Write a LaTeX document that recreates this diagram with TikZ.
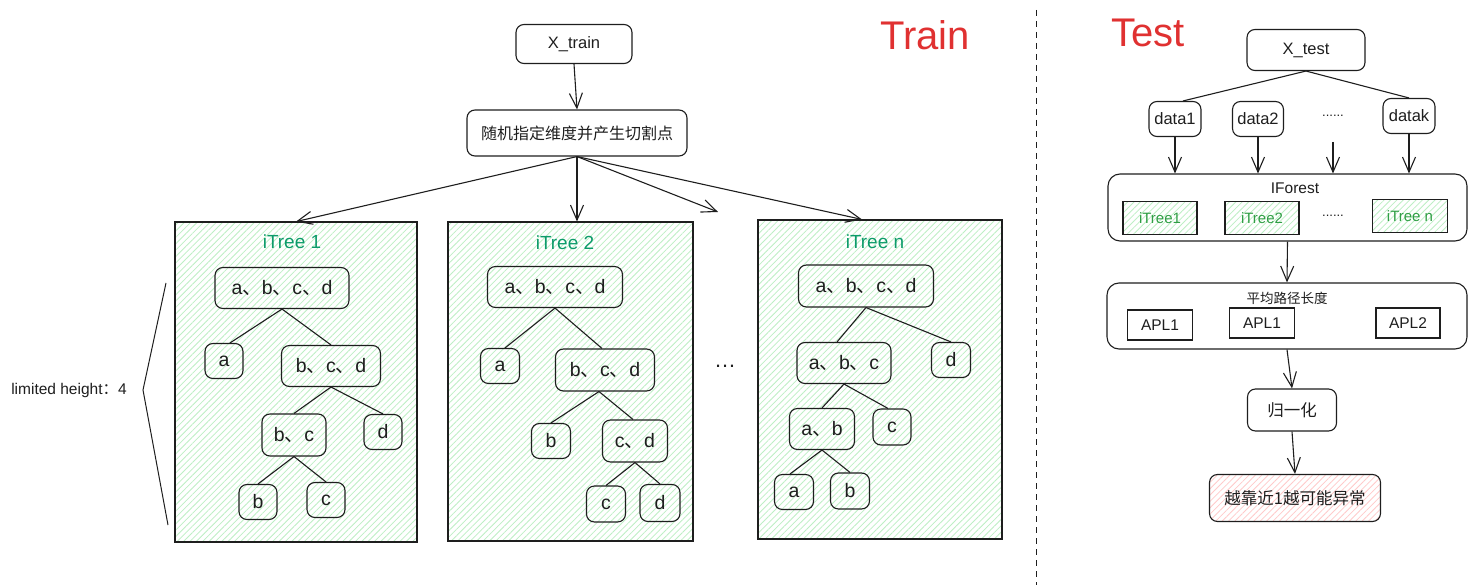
\documentclass[tikz,border=0pt]{standalone}
\usepackage{fontspec}
\setmainfont{Liberation Sans}
\newfontfamily\cjk{Noto Sans CJK SC}
\usetikzlibrary{arrows.meta,calc,patterns.meta}
\definecolor{ink}{HTML}{1E1E1E}
\definecolor{hatchg}{HTML}{BDEFC4}
\definecolor{hatchp}{HTML}{FFCACA}
\definecolor{labg}{HTML}{0C9B6A}
\definecolor{txtg}{HTML}{2F9E44}
\definecolor{redt}{HTML}{E03131}
\newcommand{\dn}{{\cjk 、}}
\newcommand{\fsz}[1]{\fontsize{#1}{#1}\selectfont}
\begin{document}
\begin{tikzpicture}[x=1pt,y=-1pt,
  every node/.style={text=ink, inner sep=0pt},
  rbox/.style={draw=ink, line width=1.1pt, rounded corners=8pt, align=center, font=\fsz{19.5}},
  wbox/.style={rbox, fill=white, font=\fsz{16.5}},
  leaf/.style={rbox, minimum width=39pt, minimum height=35pt},
  greenhatch/.style={preaction={fill=white}, pattern={Lines[angle=45,distance=4.5pt,line width=0.8pt]}, pattern color=hatchg},
  tbox/.style={draw=ink, line width=1.1pt, greenhatch},
  tlab/.style={text=labg, font=\fsz{19}},
  sbox/.style={draw=ink, line width=1.1pt, greenhatch, text=txtg, font=\fsz{15}, minimum width=74pt, minimum height=33pt},
  abox/.style={draw=ink, line width=1.1pt, fill=white, font=\fsz{15.5}, minimum width=65pt, minimum height=30pt},
  big/.style={draw=ink, line width=1.1pt, rounded corners=12pt, fill=white},
  edge/.style={draw=ink, line width=1.1pt},
  arr/.style={draw=ink, line width=1.1pt, -{Straight Barb[length=15pt,width=13pt,line width=1.1pt]}},
  title/.style={text=redt, font=\fsz{40}}
]
\useasboundingbox (0,0) rectangle (1476,585);

% ---------- Train ----------
\node[title] (train) at (925,35) {Train};
\node[wbox, minimum width=116pt, minimum height=39pt] (xtrain) at (574,44) {X\_train};
\node[wbox, minimum width=220pt, minimum height=46pt, font=\cjk\fsz{16}] (split) at (577,133) {随机指定维度并产生切割点};
\draw[arr] (xtrain.south) -- (split.north);

% tree boxes
\node[tbox, minimum width=242pt, minimum height=320pt] (t1) at (296,382) {};
\node[tbox, minimum width=245pt, minimum height=319pt] (t2) at (570.5,381.5) {};
\node[tbox, minimum width=244pt, minimum height=319pt] (tn) at (880,379.5) {};
\node[tlab] (t1l) at (292,242) {iTree 1};
\node[tlab] (t2l) at (565,243) {iTree 2};
\node[tlab] (tnl) at (875,242) {iTree n};

\coordinate (fr) at (718,212);
\coordinate (tnin) at ([xshift=-18pt]tn.north);
\draw[arr] (split.south) -- (t1.north);
\draw[arr] (split.south) -- (split.south |- t2.north);
\draw[arr] (split.south) -- (fr);
\draw[arr] (split.south) -- (tnin);

% tree 1
\node[rbox, minimum width=134pt, minimum height=41pt] (r1) at (282,288) {a\dn b\dn c\dn d};
\node[leaf, minimum width=38pt] (a1) at (224,361) {a};
\node[rbox, minimum width=99pt, minimum height=41pt] (bcd1) at (331,366) {b\dn c\dn d};
\node[rbox, minimum width=64pt, minimum height=42pt] (bc1) at (294,435) {b\dn c};
\node[leaf, minimum width=38pt] (d1) at (383,432) {d};
\node[leaf, minimum width=38pt] (b1) at (258,502) {b};
\node[leaf, minimum width=38pt] (c1) at (326,500) {c};
\draw[edge] (r1.south) -- ([xshift=6pt]a1.north);
\draw[edge] (r1.south) -- (bcd1.north);
\draw[edge] (bcd1.south) -- (bc1.north);
\draw[edge] (bcd1.south) -- (d1.north);
\draw[edge] (bc1.south) -- (b1.north);
\draw[edge] (bc1.south) -- (c1.north);

% tree 2
\node[rbox, minimum width=135pt, minimum height=41pt] (r2) at (555,287) {a\dn b\dn c\dn d};
\node[leaf] (a2) at (500,366) {a};
\node[rbox, minimum width=99pt, minimum height=42pt] (bcd2) at (605,370) {b\dn c\dn d};
\node[leaf] (b2) at (551,441) {b};
\node[rbox, minimum width=65pt, minimum height=42pt] (cd2) at (635,441) {c\dn d};
\node[leaf, minimum height=36pt] (c2) at (606,504) {c};
\node[leaf, minimum width=40pt, minimum height=37pt] (d2) at (660,503) {d};
\draw[edge] (r2.south) -- ([xshift=5pt]a2.north);
\draw[edge] (r2.south) -- ([xshift=-3pt]bcd2.north);
\draw[edge] ([xshift=-6pt]bcd2.south) -- (b2.north);
\draw[edge] ([xshift=-6pt]bcd2.south) -- ([xshift=-2pt]cd2.north);
\draw[edge] (cd2.south) -- (c2.north);
\draw[edge] (cd2.south) -- (d2.north);

% tree n
\node[rbox, minimum width=135pt, minimum height=42pt] (rn) at (866,286) {a\dn b\dn c\dn d};
\node[rbox, minimum width=94pt, minimum height=41pt] (abcn) at (844,363) {a\dn b\dn c};
\node[leaf] (dn) at (951,360) {d};
\node[rbox, minimum width=65pt, minimum height=41pt] (abn) at (822,429) {a\dn b};
\node[leaf, minimum width=38pt, minimum height=36pt] (cn) at (892,427) {c};
\node[leaf] (an) at (794,492) {a};
\node[leaf, minimum height=36pt] (bn) at (850,491) {b};
\draw[edge] (rn.south) -- ([xshift=-7pt]abcn.north);
\draw[edge] (rn.south) -- (dn.north);
\draw[edge] (abcn.south) -- (abn.north);
\draw[edge] (abcn.south) -- ([xshift=-4pt]cn.north);
\draw[edge] (abn.south) -- ([xshift=-4pt]an.north);
\draw[edge] (abn.south) -- (bn.north);

\node[font=\fsz{22}] (tdots) at (725,366) {…};

% limited height
\node[font=\fsz{15.5}] (lh) at (69,390) {limited height{\cjk ：}4};
\coordinate (bt) at (166,283);
\coordinate (bv) at (143,390);
\coordinate (bb) at (168,525);
\draw[edge, line width=1pt] (bt) -- (bv) -- (bb);

% divider
\coordinate (dv1) at (1036,10);
\coordinate (dv2) at (1036,585);
\draw[ink, line width=1pt, dash pattern=on 6pt off 5pt] (dv1) -- (dv2);

% ---------- Test ----------
\node[title] (test) at (1148,33) {Test};
\node[wbox, minimum width=118pt, minimum height=41pt] (xtest) at (1306,50) {X\_test};
\node[wbox, minimum width=52pt, minimum height=35pt] (data1) at (1175,119) {data1};
\node[wbox, minimum width=51pt, minimum height=35pt] (data2) at (1258,119) {data2};
\node[font=\fsz{13}] (ddots) at (1333,116) {......};
\node[wbox, minimum width=52pt, minimum height=35pt] (datak) at (1409,116) {datak};
\draw[edge] (xtest.south) -- ([xshift=8pt]data1.north);
\draw[edge] (xtest.south) -- (datak.north);

\node[big, minimum width=359pt, minimum height=67pt] (if) at (1287.5,207.5) {};
\node[font=\fsz{15.5}] (ifl) at (1295,188) {IForest};
\node[sbox] (it1) at (1160,218) {iTree1};
\node[sbox] (it2) at (1262,218) {iTree2};
\node[font=\fsz{13}] (idots) at (1333,216) {......};
\node[sbox, minimum width=75pt] (itn) at (1410,216) {iTree n};

\coordinate (fa) at (1333,142);
\draw[arr] (data1.south) -- (data1.south |- if.north);
\draw[arr] (data2.south) -- (data2.south |- if.north);
\draw[arr] (fa) -- (fa |- if.north);
\draw[arr] (datak.south) -- (datak.south |- if.north);

\node[big, minimum width=360pt, minimum height=66pt] (apl) at (1287,316) {};
\node[font=\cjk\fsz{13.5}] (apll) at (1287,298) {平均路径长度};
\node[abox] (ap1) at (1160,325) {APL1};
\node[abox] (ap2) at (1262,323) {APL1};
\node[abox, minimum width=64pt] (ap3) at (1408,323) {APL2};
\draw[arr] (if.south) -- (apl.north);

\node[wbox, minimum width=89pt, minimum height=42pt, font=\cjk\fsz{16.5}] (norm) at (1292,410) {归一化};
\draw[arr] (apl.south) -- (norm.north);

\node[rbox, minimum width=171pt, minimum height=47pt, font=\cjk\fsz{16.5}, preaction={fill=white}, pattern={Lines[angle=45,distance=4.5pt,line width=0.8pt]}, pattern color=hatchp] (res) at (1295,498) {越靠近1越可能异常};
\draw[arr] (norm.south) -- (res.north);
\end{tikzpicture}
\end{document}
